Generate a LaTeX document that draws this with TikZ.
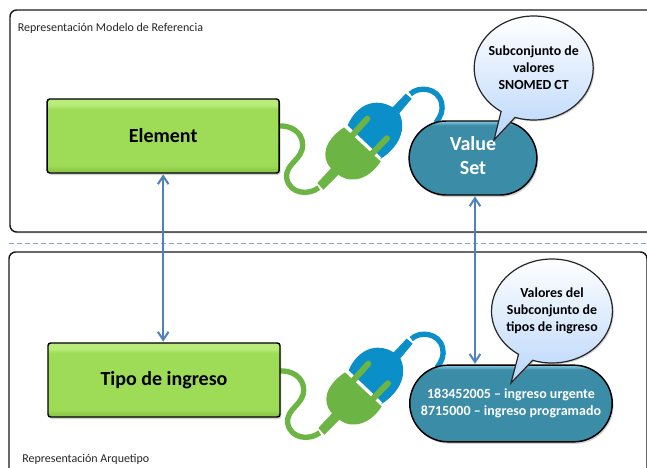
\documentclass[tikz,border=0pt]{standalone}
\usepackage{fontspec}
\setmainfont{Carlito}
\usetikzlibrary{arrows.meta,shapes.misc,shapes.callouts,shadows}

\definecolor{framegray}{HTML}{1A1A1A}
\definecolor{linkblue}{HTML}{4F81BD}
\definecolor{plugblue}{HTML}{0A8FC9}
\definecolor{pluggreen}{HTML}{6CB544}
\definecolor{leaf}{HTML}{9EDB57}
\definecolor{leafdark}{HTML}{8FCB4A}
\definecolor{leaflight}{HTML}{B9EC7A}
\definecolor{teal}{HTML}{3A8CA7}
\definecolor{teallight}{HTML}{8CCBE0}
\definecolor{bubblelow}{HTML}{B9D6FB}

\pgfdeclareverticalshading{greenface}{100bp}{color(0bp)=(leaf);color(27bp)=(leafdark);color(30bp)=(leaf);color(68bp)=(leaf);color(71bp)=(leaflight);color(75bp)=(leaflight);color(100bp)=(leaf)}
\pgfdeclareverticalshading{tealface}{100bp}{color(0bp)=(teal);color(72bp)=(teal);color(75bp)=(teallight);color(100bp)=(teallight)}

\tikzset{
    panel/.style={draw=framegray, line width=1.1pt, rounded corners=5pt, fill=white, drop shadow={shadow xshift=0.5pt, shadow yshift=-1pt, opacity=0.3}},
    greenbox/.style={draw=black, line width=1.1pt, rounded corners=2pt, shading=greenface, minimum width=174pt, minimum height=55.5pt, font=\fontsize{15}{18}\selectfont\bfseries, drop shadow={shadow xshift=1pt, shadow yshift=-1.5pt, opacity=0.35}},
    tealbox/.style={shape=rounded rectangle, draw=black, line width=1.1pt, shading=tealface, text=white, font=\fontsize{10.5}{12.5}\selectfont\bfseries, align=center, drop shadow={shadow xshift=1pt, shadow yshift=-1.5pt, opacity=0.35}},
    bubble/.style={shape=ellipse callout, draw=black!85, line width=0.9pt, top color=white, bottom color=bubblelow, font=\fontsize{10.4}{12.8}\selectfont\bfseries, align=center, minimum height=78pt, inner xsep=-2.2pt, inner ysep=0pt, drop shadow={shadow xshift=1pt, shadow yshift=-1pt, opacity=0.35}},
    panellabel/.style={font=\fontsize{9}{11}\selectfont, text=black!85, anchor=west, inner sep=0pt},
    link/.style={linkblue, line width=1.5pt, {Straight Barb[length=6pt,width=8pt]}-{Straight Barb[length=6pt,width=8pt]}, shorten >=0.5pt, shorten <=0.5pt},
    pics/plug/.style={code={
        % cords
        \draw[plugblue, line width=4pt] (421,282) .. controls (445,258) and (505,262) .. (515,310) .. controls (520,330) and (512,350) .. (498,368);
        \draw[pluggreen, line width=4pt] (146,563) .. controls (120,585) and (60,585) .. (50,535) .. controls (45,490) and (98,480) .. (98,435) .. controls (98,395) and (60,375) .. (25,378);
        % blue half
        \fill[plugblue] (232,378) .. controls (258,315) and (315,290) .. (368,322) -- (407,281) -- (425,296) -- (388,340) .. controls (410,385) and (390,440) .. (330,478) -- cycle;
        % green half
        \fill[pluggreen] (222,382) -- (332,484) .. controls (300,535) and (245,555) .. (205,524) -- (160,569) -- (142,549) -- (183,505) .. controls (150,470) and (165,420) .. (222,382) -- cycle;
        % gap and pins
        \draw[white, line width=2.2pt] (229,379) -- (331,476);
        \draw[pluggreen, line width=4.5pt, line cap=round] (248,405) -- (292,356);
        \draw[pluggreen, line width=4.5pt, line cap=round] (305,462) -- (351,415);
    }}
}

\begin{document}
\begin{tikzpicture}[x=0.75pt, y=-0.75pt]
    \useasboundingbox (0,0) rectangle (647,468);
    \clip (0,0) rectangle (647,468);
    
    \node[panel, minimum width=495pt, minimum height=166.5pt] (modelPanel) at (340,121) {};
    \node[panel, minimum width=478.5pt, minimum height=180pt] (archetypePanel) at (328,372) {};
    \coordinate (cutLeft) at (9,243);
    \coordinate (cutRight) at (647,243);
    \draw[linkblue!70!white, dash pattern=on 4pt off 2pt, line width=0.7pt] (cutLeft) -- (cutRight);
    
    \node[panellabel] (modelLabel) at (17.5,28) {Representación Modelo de Referencia};
    \node[panellabel] (archetypeLabel) at (22,459) {Representación Arquetipo};
    
    \pic[scale=1/3] at (270,0) {plug};
    \pic[scale=1/3] at (271,245) {plug};
    
    \node[greenbox] (element) at (163.2,136) {Element};
    \node[greenbox] (tipo) at (164,380) {Tipo de ingreso};
    \node[tealbox, font=\fontsize{15}{18}\selectfont\bfseries, minimum width=102.5pt, minimum height=55.5pt, text depth=4pt] (valueSet) at (473,158) {Value\\Set};
    \node[tealbox, minimum width=158.5pt, minimum height=57.5pt] (valueList) at (511,403.5) {183452005 – ingreso urgente\\8715000 – ingreso programado};
    
    \node[bubble, callout absolute pointer={(494,140)}] (setBubble) at (533.7,68) {Subconjunto de\\valores\\SNOMED CT};
    \node[bubble, callout absolute pointer={(511,383)}] (listBubble) at (552,311) {Valores del\\Subconjunto de\\tipos de ingreso};
    
    \draw[link] (element.south) -- (element.south |- tipo.north);
    \draw[link] ([xshift=1.5pt]valueSet.south) -- ([xshift=1.5pt]valueSet.south |- valueList.north);
    
\end{tikzpicture}
\end{document}
